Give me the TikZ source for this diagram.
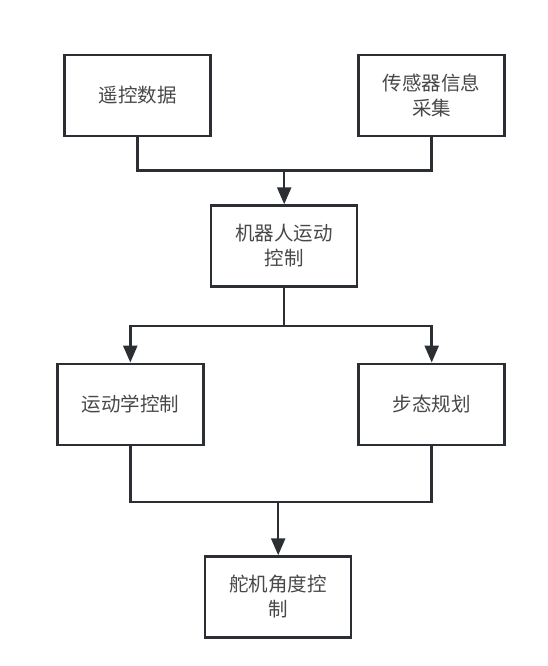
\documentclass[tikz,border=0pt]{standalone}
\usepackage{fontspec}
\newfontfamily\cjk{Noto Sans CJK SC}
\usetikzlibrary{arrows.meta}
\definecolor{linec}{HTML}{2B2F33}
\definecolor{textc}{HTML}{484848}
\begin{document}
\begin{tikzpicture}[x=1pt,y=-1pt,
  box/.style={draw=linec,line width=2.5pt,fill=white,minimum width=146pt,minimum height=81pt,
    inner sep=2pt,align=center,font=\cjk\fontsize{19.5}{25}\selectfont,text=textc},
  conn/.style={draw=linec,line width=2.5pt},
  arr/.style={conn,-{Triangle[length=17pt,width=14pt]}}]
\useasboundingbox (0,0) rectangle (547,666);
\node[box] (b1) at (137.5,95.5) {遥控数据};
\node[box] (b2) at (431.7,95.5) {传感器信息\\采集};
\node[box] (b3) at (284.2,246) {机器人运动\\控制};
\node[box] (b4) at (130.3,404.3) {运动学控制};
\node[box] (b5) at (431.7,404.3) {步态规划};
\node[box] (b6) at (278.2,597) {舵机角度控\\制};
\coordinate (j1) at (284.2,170.7);
\coordinate (j2) at (284.2,326);
\coordinate (j3) at (278.2,502);
\draw[conn] (b1.south) |- (j1);
\draw[conn] (b2.south) |- (j1);
\draw[arr] (j1) -- (b3.north);
\draw[conn] (b3.south) -- (j2);
\draw[arr] (j2) -| (b4.north);
\draw[arr] (j2) -| (b5.north);
\draw[conn] (b4.south) |- (j3);
\draw[conn] (b5.south) |- (j3);
\draw[arr] (j3) -- (b6.north);
\end{tikzpicture}
\end{document}
